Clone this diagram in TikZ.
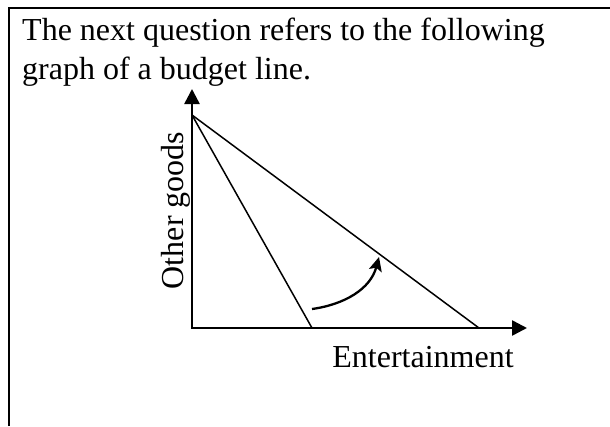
\documentclass[tikz,border=0pt]{standalone}
\usepackage{fontspec}
\setmainfont{Liberation Serif}
\usepackage{tikz}
\usetikzlibrary{arrows.meta,positioning}

\begin{document}
\begin{tikzpicture}[
  x=1pt, y=-1pt,
  txt/.style={inner sep=0pt, font=\fontsize{32}{39}\selectfont},
  frame/.style={line width=2.5pt},
  axis/.style={line width=2.5pt, {Triangle[length=15pt,width=15pt]}-{Triangle[length=15pt,width=15pt]}},
  budget/.style={line width=1.5pt},
  turn/.style={line width=2.3pt, -{Stealth[length=14pt,width=13pt,inset=3pt]}}
]
\useasboundingbox (0,0) rectangle (610,426);
% frame round the question
\draw[frame] (9,426) |- (612,8);
\node[txt, anchor=base west] (qline1) at (22,40) {The next question refers to the following};
\node[txt, anchor=base west] (qline2) at (22,79) {graph of a budget line.};
% axes and budget lines
\coordinate (ytip) at (192,89);
\coordinate (xtip) at (527,328);
\coordinate (origin) at (192,328);
\coordinate (top) at (192,115);
\coordinate (steep) at (312,328);
\coordinate (flat) at (479,328);
\draw[axis] (ytip) |- (xtip);
\draw[budget] (top) -- (steep);
\draw[budget] (top) -- (flat);
\coordinate (rotfrom) at (312,309);
\coordinate (rotto) at (379,257);
\draw[turn] (rotfrom) to[out=8, in=-105] (rotto);
\node[txt, rotate=90, anchor=base] (ylabel) at (183,210.5) {Other goods};
\node[txt, anchor=base] (xlabel) at (423,367) {Entertainment};
\end{tikzpicture}
\end{document}
